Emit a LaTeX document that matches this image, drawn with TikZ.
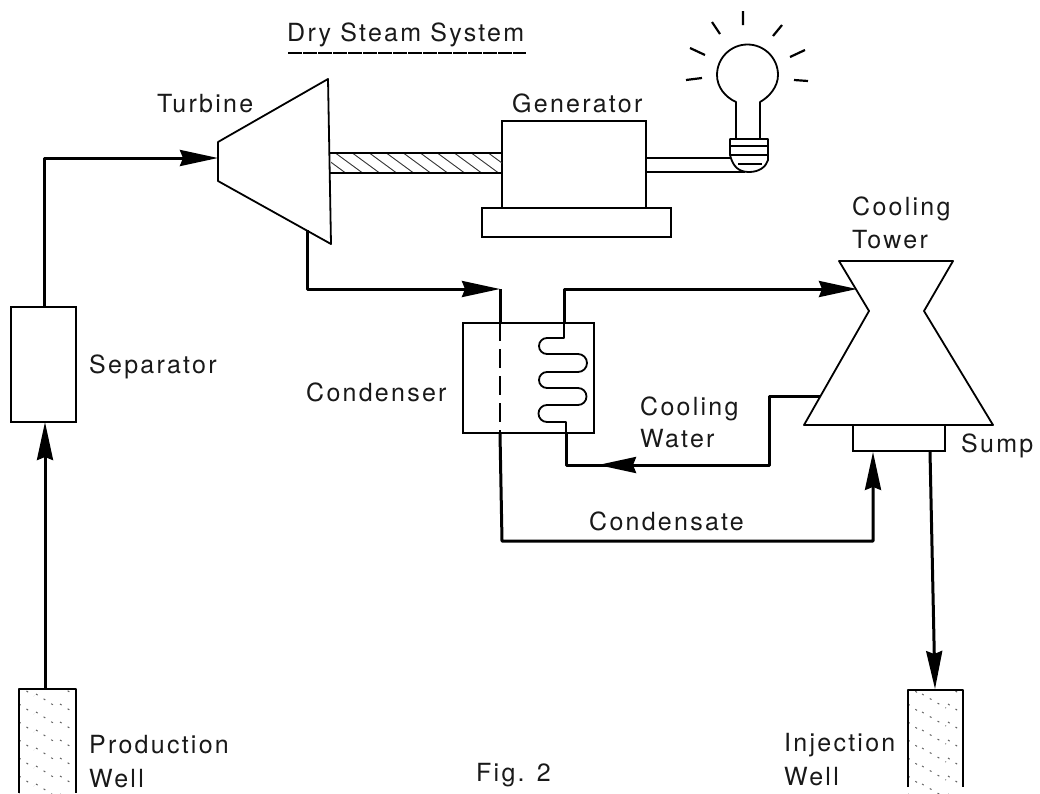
\documentclass[tikz,border=0pt]{standalone}
\usepackage{fontspec}
\setmainfont{TeX Gyre Heros}
\usetikzlibrary{arrows.meta,calc}
\tikzset{
  line/.style={line width=1.8pt,black,line join=round},
  flow/.style={line width=3pt,black,line join=round},
  flowarrow/.style={flow,-{Stealth[length=38pt,width=16pt,inset=3pt]}},
  txt/.style={font=\fontsize{25}{29}\selectfont\addfontfeatures{LetterSpace=9},inner sep=0pt,align=left,text=black!90},
  hatchl/.style={line width=0.9pt,black!80},
  welldots/.style={line width=1pt,black!60,dash pattern=on 2pt off 7pt},
}
\begin{document}
\begin{tikzpicture}[x=1pt,y=-1pt]
\useasboundingbox (0,0) rectangle (1040,793);
% anchors
\coordinate (tl) at (218,142);
\coordinate (tr) at (328,79);
\coordinate (br) at (331,244);
\coordinate (bl) at (218,181);
\coordinate (tin) at (218,158);
\coordinate (tout) at (307,230);
\coordinate (c1) at (44,158);
\coordinate (c2) at (307,289);
\coordinate (c3) at (500,289);
\coordinate (c4) at (564,289);
\coordinate (c5) at (857,289);
\coordinate (c6) at (820,396);
\coordinate (c7) at (769,396);
\coordinate (c8) at (769,465);
\coordinate (c9) at (566,465);
\coordinate (c10) at (502,541);
\coordinate (c11) at (873,541);
% boxes
\node[draw,line width=2pt,minimum width=65pt,minimum height=115pt,inner sep=0pt] (sep) at (43.5,364.5) {};
\node[draw,line width=1.8pt,minimum width=131pt,minimum height=110pt,inner sep=0pt] (cond) at (528.5,378) {};
\node[draw,line width=1.8pt,minimum width=144pt,minimum height=87pt,inner sep=0pt] (gen) at (574,164.5) {};
\node[draw,line width=1.8pt,minimum width=189pt,minimum height=29pt,inner sep=0pt] (genbase) at (576.5,222.5) {};
\node[draw,line width=1.8pt,minimum width=92pt,minimum height=26pt,inner sep=0pt] (sump) at (899,438) {};
% turbine
\draw[line] (tl)--(tr)--(br)--(bl)--cycle;
% shaft
\begin{scope}
\clip (331,153) rectangle (502,173);
\foreach \x in {300,317,...,510}{\draw[hatchl] (\x,152)--(\x+30,174);}
\end{scope}
\draw[line] (330,153)--(gen.west |- 0,153) (330,173)--(gen.west |- 0,173);
% output shaft
\draw[line] (gen.east |- 0,158)--(733,158) (gen.east |- 0,172)--(745,172);
% bulb
\draw[line] (736,138)--(736,102) .. controls (725,97) and (717,87) .. (717,75)
  arc[start angle=180,end angle=0,radius=30.5pt] .. controls (778,87) and (769,97) .. (760,102)--(760,138);
\draw[line,fill=white] (730,139)--(768,139)--(768,160) .. controls (766,167) and (759,172) .. (749,172) .. controls (739,172) and (733,167) .. (730,155)--cycle;
\draw[line width=2.6pt] (730,146)--(768,146) (731,155)--(768,155);
\draw[line] (738,164)--(762,164);
% rays
\draw[line,line width=2.2pt] (712,22)--(720,34) (743,11)--(743,25) (782,25)--(773,36) (690,48)--(705,55) (686,80)--(702,78) (790,57)--(805,50) (794,80)--(808,81);
% tower
\draw[line] (839,261)--(953,261)--(924,311)--(993,425)--(804,425)--(869,311)--cycle;
% condenser piping
\draw[flow] (c4) -- (cond.north -| c4);
\draw[line] (cond.north -| c4) -- (564,338) -- (547,338) arc[start angle=90,end angle=270,radius=8pt] -- (578,354) arc[start angle=90,end angle=-90,radius=9pt] -- (547,372) arc[start angle=90,end angle=270,radius=8pt] -- (578,388) arc[start angle=90,end angle=-90,radius=8.5pt] -- (547,405) arc[start angle=90,end angle=270,radius=8.5pt] -- (566,422) -- (cond.south -| c9);
\draw[line,line width=2.2pt,dash pattern=on 19pt off 8pt] (cond.north -| c3) -- (cond.south -| c3);
% flows
\draw[flowarrow] (45,689) -- (45,422);
\draw[flowarrow] (sep.north -| c1) -- (c1) -- (tin);
\draw[flowarrow] (tout) -- (c2) -- (c3) ;
\draw[flow] (c3) -- (cond.north -| c3);
\draw[flowarrow] (cond.north -| c4) -- (c4) -- (c5);
\draw[flow] (cond.south -| c9) -- (c9) -- (630,465);
\draw[flowarrow] (c6) -- (c7) -- (c8) -- (598,465);
\draw[flowarrow] (cond.south -| c3) -- (c10) -- (c11) -- (sump.south -| c11);
\draw[flowarrow] (sump.south -| 930,0) -- (935,689);
% wells
\begin{scope}
\clip (19,689) rectangle (76,793);
\foreach \y in {650,668,...,800}{\draw[welldots] (19,\y)--(34,\y+10) (60,\y)--(76,\y+10);\draw[welldots] (36,\y+8)--(58,\y+22);}
\end{scope}
\begin{scope}
\clip (908,690) rectangle (963,793);
\foreach \y in {650,668,...,800}{\draw[welldots] (908,\y)--(922,\y+10) (948,\y)--(963,\y+10);\draw[welldots] (922,\y+8)--(946,\y+22);}
\end{scope}
\draw[line,line width=2.2pt] (19,793)--(19,689)--(76,689)--(76,793);
\draw[line,line width=2.2pt] (908,787)--(908,690)--(963,690)--(963,787);
% labels
\node[txt,anchor=west] (t0) at (287,35) {Dry Steam System};
\draw[line width=1.2pt,dash pattern=on 14pt off 1pt] (288,53)--(526,53);
\node[txt,anchor=west] (t1) at (157,104) {Turbine};
\node[txt,anchor=west] (t2) at (512,103) {Generator};
\node[txt,anchor=west] (t3) at (89,367) {Separator};
\node[txt,anchor=west] (t4) at (306,392) {Condenser};
\node[txt,anchor=west] (t5) at (640,409) {Cooling};
\node[txt,anchor=west] (t6) at (640,439) {Water};
\node[txt,anchor=west] (t7) at (852,209) {Cooling};
\node[txt,anchor=west] (t8) at (852,240) {Tower};
\node[txt,anchor=west] (t9) at (961,446) {Sump};
\node[txt,anchor=west] (t10) at (589,521) {Condensate};
\node[txt,anchor=west] (t11) at (89,745) {Production};
\node[txt,anchor=west] (t12) at (89,779) {Well};
\node[txt,anchor=west] (t13) at (476,775) {Fig. 2};
\node[txt,anchor=west] (t14) at (784,745) {Injection};
\node[txt,anchor=west] (t15) at (784,777) {Well};
\end{tikzpicture}
\end{document}
